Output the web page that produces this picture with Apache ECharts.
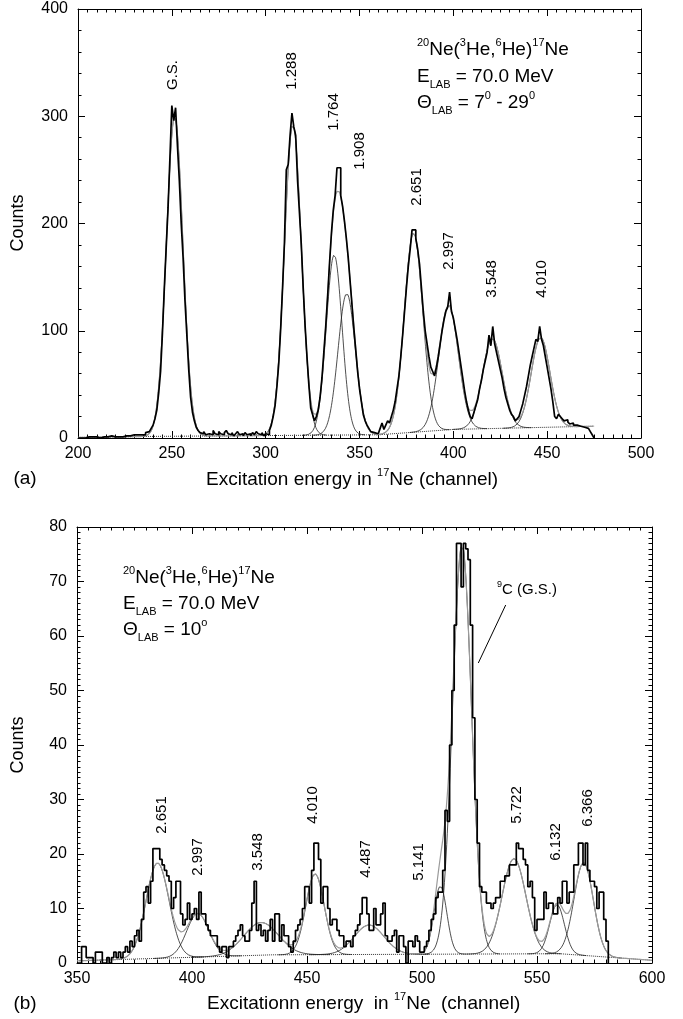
<!DOCTYPE html>
<html><head><meta charset="utf-8">
<script src="https://cdn.jsdelivr.net/npm/echarts@6/dist/echarts.min.js"></script>
<style>html,body{margin:0;padding:0;background:#fff}#c{width:683px;height:1019px}</style>
</head><body><div id="c"></div>
<script>
const FONT = '"Liberation Sans", Arial, Helvetica, sans-serif';

// ---------- Panel (a) data ----------
const topStartChannel = 200;
const topCounts = [
  0,0,1,0,0,1,0,1,0,1,
  1,0,1,1,0,1,1,2,1,1,
  2,1,2,1,2,2,3,2,3,3,
  2,3,4,3,4,3,5,6,6,9,
  12,18,26,42,62,98,140,178,215,262,
  310,296,308,272,240,200,168,128,96,64,
  38,24,16,10,7,5,4,6,3,4,
  5,3,7,4,3,6,4,3,5,7,
  4,3,5,2,4,6,3,4,2,5,
  3,4,2,5,3,6,4,3,5,2,
  4,3,7,12,20,30,48,70,102,140,
  182,250,255,282,303,290,282,240,210,180,
  140,105,76,50,28,22,16,20,26,38,
  56,80,104,132,162,190,212,226,252,252,
  226,216,202,186,168,146,124,102,82,62,
  46,34,22,16,12,9,6,5,4,4,
  5,9,14,8,12,16,14,20,26,34,
  46,58,76,96,118,140,160,176,194,194,
  186,176,162,140,118,100,88,76,66,62,
  58,66,76,88,100,110,118,122,136,118,
  112,102,92,80,68,56,44,34,26,20,
  18,24,30,36,46,54,64,72,80,96,
  86,104,88,80,72,64,56,46,38,32,
  26,22,20,16,18,20,26,32,40,48,
  58,68,76,84,92,90,104,92,86,76,
  66,56,46,34,20,18,22,20,18,16,
  17,15,13,14,12,12,11,11,10,10,
  10,9,8,6,3,0
];
const topPeakNames     = ['G.S.','1.288','1.764','1.908','2.651','2.997','3.548','4.010'];
const topPeakCentroids = [251.5, 314.5, 336.5, 343.2, 378.8, 397.5, 420.8, 446.5];
const topPeakHeights   = [298, 290, 168, 132, 186, 116, 84, 84];
const topPeakSigmas    = [4.4, 4.5, 4.2, 4.6, 4.9, 5.2, 5.3, 5.0];
const topBackgroundX   = [200, 240, 360, 400, 475];
const topBackgroundY   = [0.5, 1.5, 3, 8, 11];

// ---------- Panel (b) data ----------
const botStartChannel = 350;
const botCounts = [
  0,0,3,3,1,1,1,0,2,2,
  2,0,0,1,0,1,2,1,2,1,
  2,3,2,4,3,5,6,4,8,13,
  14,11,15,21,21,21,19,18,17,16,
  15,10,12,15,15,9,7,8,11,8,
  9,10,8,13,9,9,7,6,5,5,
  5,3,2,3,3,1,3,3,4,5,
  6,7,5,4,4,6,11,15,6,7,
  5,6,4,6,8,4,9,9,4,7,
  5,5,3,2,4,6,7,8,10,14,
  14,11,17,22,22,19,11,14,14,10,
  7,8,8,6,5,5,3,4,4,3,
  5,6,7,9,12,12,9,6,6,10,
  7,7,9,11,5,4,4,5,6,2,
  5,5,3,0,4,4,3,5,4,2,
  2,3,4,6,8,9,12,13,13,17,
  28,26,40,50,62,77,77,69,77,76,
  74,62,45,30,22,14,13,13,11,11,
  10,11,12,12,15,15,16,16,18,18,
  18,22,21,21,19,18,14,15,12,6,
  8,8,8,13,10,11,11,9,9,12,
  11,15,15,11,13,13,18,18,22,22,
  18,22,17,15,15,14,10,13,13,8,
  4,0
];
const botPeakNames     = ['2.651','2.997','3.548','4.010','4.487','5.141','9C','5.722','6.132','6.366'];
const botPeakCentroids = [385, 402.5, 430, 453.5, 477, 508, 517.4, 540, 558.7, 570.3];
const botPeakHeights   = [17.5, 8, 6, 14.8, 5.4, 12.5, 75, 17.5, 9, 17];
const botPeakSigmas    = [5.0, 4.8, 7.5, 4.0, 6.5, 2.8, 4.1, 5.2, 3.2, 4.2];
const botBackgroundX   = [350, 435, 560, 600];
const botBackgroundY   = [0.4, 1.5, 1.7, 0.5];

// ---------- helpers ----------
function interp(xs, ys, x) {
  if (x <= xs[0]) return ys[0];
  for (let i = 1; i < xs.length; i++) {
    if (x <= xs[i]) return ys[i-1] + (ys[i]-ys[i-1]) * (x - xs[i-1]) / (xs[i] - xs[i-1]);
  }
  return ys[ys.length-1];
}
function gauss(x, c, a, s) { return a * Math.exp(-(x-c)*(x-c)/(2*s*s)); }
function componentData(c, a, s, bx, by, lo, hi) {
  const out = [];
  const from = Math.max(lo, c - 4*s), to = Math.min(hi, c + 4*s);
  for (let x = from; x <= to + 1e-9; x += 0.25) out.push([x, gauss(x,c,a,s) + interp(bx,by,x)]);
  return out;
}
function totalData(cs, as, ss, bx, by, lo, hi) {
  const out = [];
  for (let x = lo; x <= hi + 1e-9; x += 0.25) {
    let v = interp(bx, by, x);
    for (let i = 0; i < cs.length; i++) v += gauss(x, cs[i], as[i], ss[i]);
    out.push([x, v]);
  }
  return out;
}
function histData(start, counts) { return counts.map((v, i) => [start + i, v]); }

function mkX(grid, min, max, interval, pos, showLabel) {
  return {
    gridIndex: grid, type: 'value', min, max, interval, position: pos,
    axisLine: { show: true, onZero: false, lineStyle: { color: '#000', width: 1 } },
    axisTick: { show: true, inside: true, length: 7, lineStyle: { color: '#000', width: 1 } },
    minorTick: { show: true, splitNumber: 10, length: 3.5, lineStyle: { color: '#000', width: 1 } },
    axisLabel: { show: showLabel, color: '#000', fontSize: 16, fontFamily: FONT, margin: 8, showMinLabel: true, showMaxLabel: true },
    splitLine: { show: false }, minorSplitLine: { show: false }
  };
}
function mkY(grid, min, max, interval, minorSplit, pos, showLabel) {
  return {
    gridIndex: grid, type: 'value', min, max, interval, position: pos,
    axisLine: { show: true, onZero: false, lineStyle: { color: '#000', width: 1 } },
    axisTick: { show: true, inside: true, length: 7, lineStyle: { color: '#000', width: 1 } },
    minorTick: { show: true, splitNumber: minorSplit, length: 3.5, lineStyle: { color: '#000', width: 1 } },
    axisLabel: { show: showLabel, color: '#000', fontSize: 16, fontFamily: FONT, margin: 10, showMinLabel: true, showMaxLabel: true },
    splitLine: { show: false }, minorSplitLine: { show: false }
  };
}
function lineSeries(data, xi, yi, color, width, type, z, step) {
  const s = { type: 'line', xAxisIndex: xi, yAxisIndex: yi, data, symbol: 'none', showSymbol: false,
    silent: true, animation: false, z, lineStyle: { color, width, type } };
  if (step) s.step = step;
  return s;
}

const series = [];
// panel (a)
series.push(lineSeries(topBackgroundX.map((x,i)=>[x, topBackgroundY[i]]), 0, 0, '#333', 1, 'dotted', 2));
topPeakCentroids.forEach((c, i) => series.push(lineSeries(
  componentData(c, topPeakHeights[i], topPeakSigmas[i], topBackgroundX, topBackgroundY, 200, 475), 0, 0, '#222', 0.8, 'solid', 3)));
series.push(lineSeries(totalData(topPeakCentroids, topPeakHeights, topPeakSigmas, topBackgroundX, topBackgroundY, 200, 475), 0, 0, '#9a9a9a', 1.2, 'solid', 4));
series.push(lineSeries(histData(topStartChannel, topCounts), 0, 0, '#000', 1.7, 'solid', 5, 'end'));
// panel (b)
series.push(lineSeries(botBackgroundX.map((x,i)=>[x, botBackgroundY[i]]), 2, 2, '#333', 1, 'dotted', 2));
botPeakCentroids.forEach((c, i) => series.push(lineSeries(
  componentData(c, botPeakHeights[i], botPeakSigmas[i], botBackgroundX, botBackgroundY, 350, 600), 2, 2, '#222', 0.8, 'solid', 3)));
series.push(lineSeries(totalData(botPeakCentroids, botPeakHeights, botPeakSigmas, botBackgroundX, botBackgroundY, 350, 600), 2, 2, '#9a9a9a', 1.2, 'solid', 4));
series.push(lineSeries(histData(botStartChannel, botCounts), 2, 2, '#000', 1.7, 'solid', 5, 'end'));

// ---------- text ----------
const RICH = {
  n:   { fontSize: 19, fontFamily: FONT, fill: '#000', lineHeight: 26, verticalAlign: 'middle' },
  sup: { fontSize: 11, fontFamily: FONT, fill: '#000', lineHeight: 16, verticalAlign: 'top' },
  sub: { fontSize: 11, fontFamily: FONT, fill: '#000', lineHeight: 13, verticalAlign: 'bottom' },
  m:   { fontSize: 15, fontFamily: FONT, fill: '#000', lineHeight: 20, verticalAlign: 'middle' },
  ms:  { fontSize: 9,  fontFamily: FONT, fill: '#000', lineHeight: 12, verticalAlign: 'top' }
};
function rtext(x, y, text, align) {
  return { type: 'text', x, y, silent: true, z: 10,
    style: { text, rich: RICH, align: align || 'left', verticalAlign: 'middle', fill: '#000', font: '19px ' + FONT } };
}
function vtext(x, y, text, size) {
  return { type: 'text', x, y, rotation: Math.PI / 2, silent: true, z: 10,
    style: { text, font: size + 'px ' + FONT, fill: '#000', align: 'center', verticalAlign: 'middle' } };
}
function ptext(x, y, text, size) {
  return { type: 'text', x, y, silent: true, z: 10,
    style: { text, font: size + 'px ' + FONT, fill: '#000', align: 'center', verticalAlign: 'middle' } };
}

const reaction = '{sup|20}{n|Ne(}{sup|3}{n|He,}{sup|6}{n|He)}{sup|17}{n|Ne}';
const energy = '{n|E}{sub|LAB}{n| = 70.0 MeV}';
const topAngle = '{n|Θ}{sub|LAB}{n| = 7}{sup|0}{n| - 29}{sup|0}';
const botAngle = '{n|Θ}{sub|LAB}{n| = 10}{sup|o}';

const topLabelPos = [[173,75],[292,71],[334,112],[360,151],[417,187],[449,251],[492,279],[542,279]];
const botLabelPos = [[162,815],[198,857],[258,852],[313,805],[366,859],[419,862],null,[517,805],[556,842],[588,808]];

const graphics = [];
topPeakNames.forEach((t, i) => graphics.push(vtext(topLabelPos[i][0], topLabelPos[i][1], t, 15)));
botPeakNames.forEach((t, i) => { if (botLabelPos[i]) graphics.push(vtext(botLabelPos[i][0], botLabelPos[i][1], t, 15)); });
graphics.push(rtext(417, 50, reaction));
graphics.push(rtext(417, 77, energy));
graphics.push(rtext(417, 103, topAngle));
graphics.push(rtext(123, 578, reaction));
graphics.push(rtext(123, 604, energy));
graphics.push(rtext(123, 630, botAngle));
graphics.push(rtext(497, 590, '{ms|9}{m|C (G.S.)}'));
graphics.push({ type: 'line', silent: true, z: 10, shape: { x1: 505.7, y1: 605, x2: 478.3, y2: 663 }, style: { stroke: '#000', lineWidth: 1 } });
graphics.push(vtext(18, 223, 'Counts', 18));
graphics.push(vtext(18, 745, 'Counts', 18));
graphics.push(rtext(206, 480, '{n|Excitation energy in }{sup|17}{n|Ne (channel)}'));
graphics.push(rtext(207, 1004, '{n|Excitationn energy  in }{sup|17}{n|Ne  (channel)}'));
graphics.push(ptext(25, 479, '(a)', 19));
graphics.push(ptext(25, 1004, '(b)', 19));

const chart = echarts.init(document.getElementById('c'), null, { renderer: 'canvas' });
chart.setOption({
  animation: false,
  backgroundColor: '#fff',
  grid: [
    { left: 78, top: 9, width: 563, height: 429 },
    { left: 77, top: 527, width: 575, height: 436 }
  ],
  xAxis: [
    mkX(0, 200, 500, 50, 'bottom', true),
    mkX(0, 200, 500, 50, 'top', false),
    mkX(1, 350, 600, 50, 'bottom', true),
    mkX(1, 350, 600, 50, 'top', false)
  ],
  yAxis: [
    mkY(0, 0, 400, 100, 5, 'left', true),
    mkY(0, 0, 400, 100, 5, 'right', false),
    mkY(1, 0, 80, 10, 10, 'left', true),
    mkY(1, 0, 80, 10, 10, 'right', false)
  ],
  series,
  graphic: graphics
});
</script></body></html>
